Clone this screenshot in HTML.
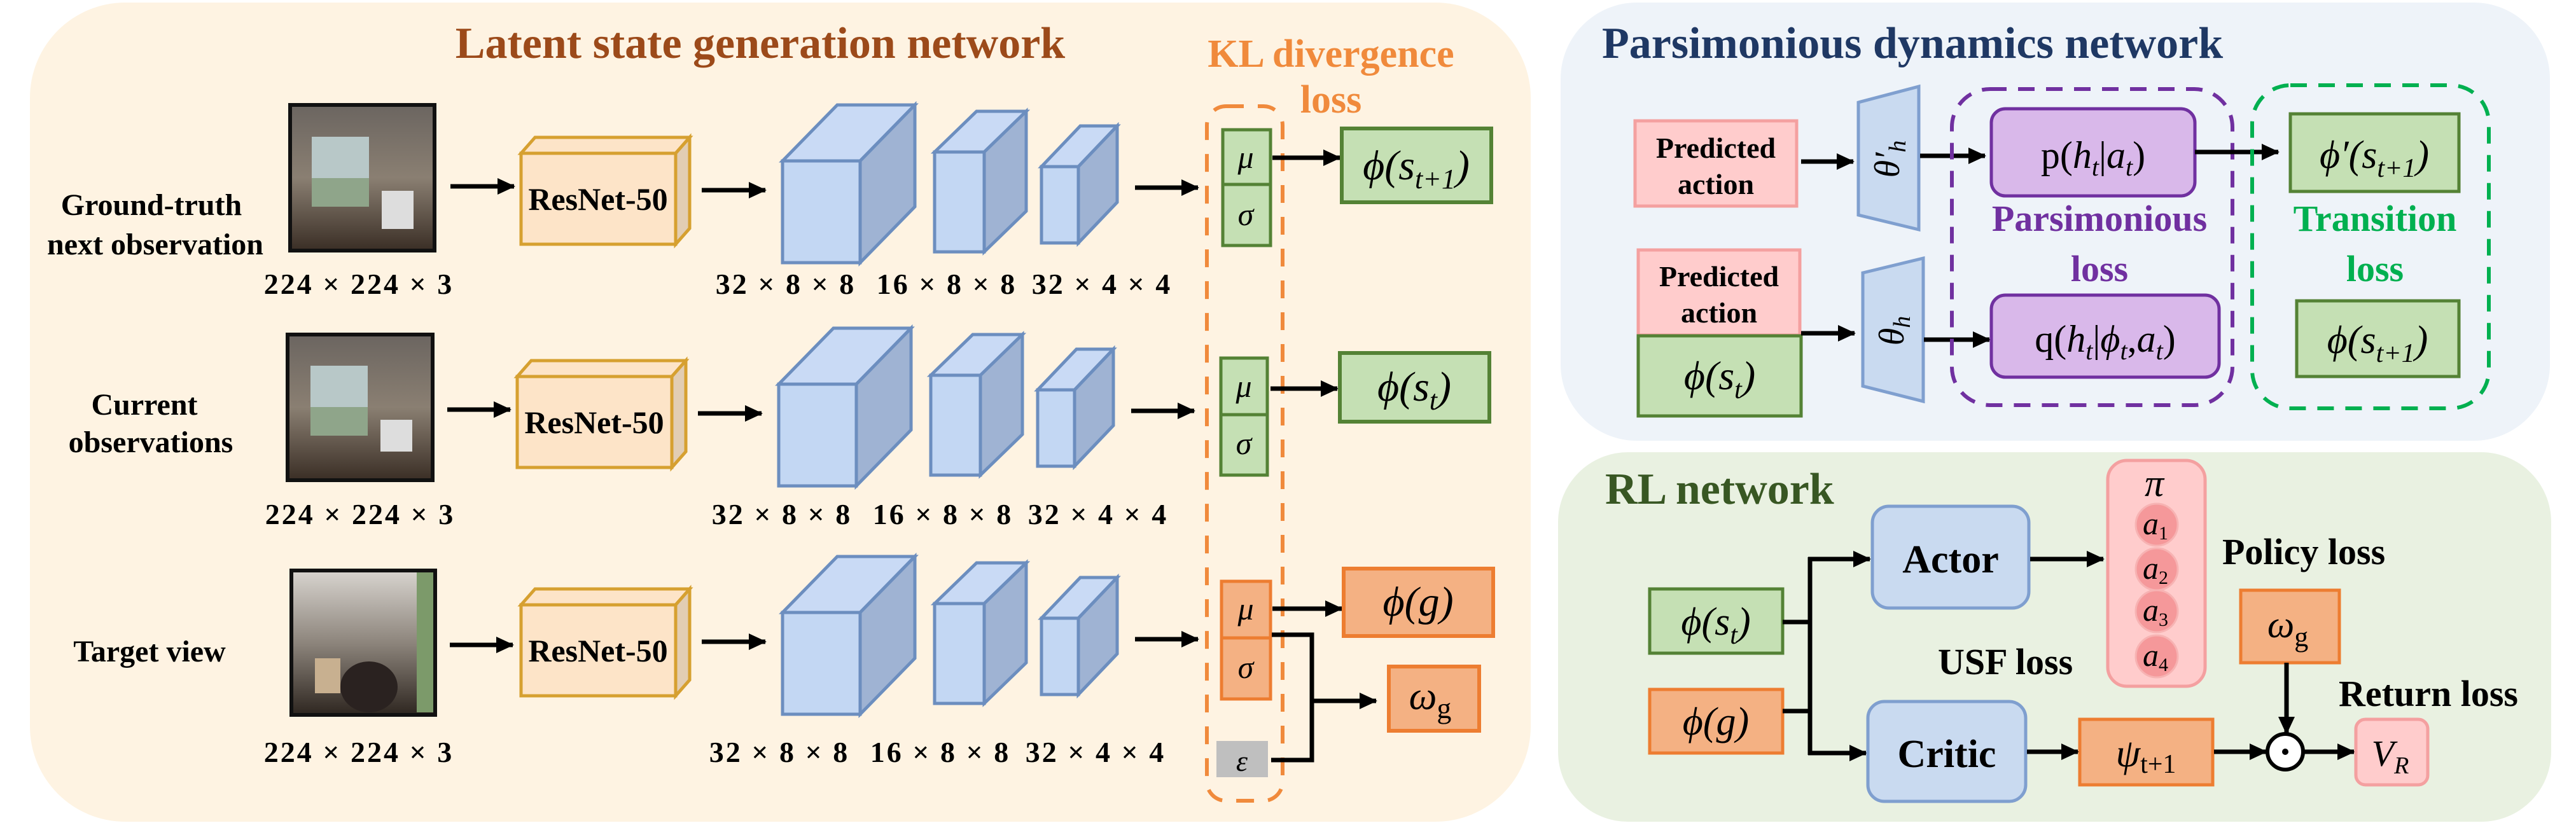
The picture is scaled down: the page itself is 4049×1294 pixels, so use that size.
<!DOCTYPE html>
<html><head><meta charset="utf-8"><style>
html,body{margin:0;padding:0;background:#fff;}
svg{display:block;}
text{font-family:"Liberation Serif",serif;}
.b{font-weight:bold;}
.m{font-style:italic;}
.dim{letter-spacing:3px;}
</style></head><body>
<svg width="4049" height="1294" viewBox="0 0 4049 1294" xmlns="http://www.w3.org/2000/svg" font-family="Liberation Serif, serif">
<defs>
<marker id="ar" markerUnits="userSpaceOnUse" markerWidth="30" markerHeight="30" refX="26" refY="13" orient="auto">
<path d="M0,0 L28,13 L0,26 Z" fill="#000"/>
</marker>
<linearGradient id="img1" x1="0" y1="0" x2="0" y2="1">
<stop offset="0" stop-color="#6b6560"/><stop offset="0.5" stop-color="#8a7f72"/><stop offset="1" stop-color="#3a2e25"/>
</linearGradient>
<linearGradient id="img3" x1="0" y1="0" x2="0" y2="1">
<stop offset="0" stop-color="#d8d4cf"/><stop offset="0.5" stop-color="#8d857c"/><stop offset="1" stop-color="#2e2620"/>
</linearGradient>
<g id="cubeSet">
<polygon points="819,241 841,216 1084,216 1062,241" fill="#fde4c8" stroke="#d6a030" stroke-width="5"/>
<polygon points="1062,241 1084,216 1084,359 1062,384" fill="#e2cdb3" stroke="#d6a030" stroke-width="5"/>
<rect x="819" y="241" width="243" height="143" fill="#fde4c8" stroke="#d6a030" stroke-width="5"/>
<text x="940" y="330" font-size="50" class="b" text-anchor="middle">ResNet-50</text>
<line x1="1103" y1="299" x2="1203" y2="299" stroke="#000" stroke-width="7" marker-end="url(#ar)"/>
<polygon points="1230,253 1316,165 1438,165 1352,253" fill="#c9daf5" stroke="#6c8ebf" stroke-width="5"/>
<polygon points="1352,253 1438,165 1438,325 1352,413" fill="#9fb3d3" stroke="#6c8ebf" stroke-width="5"/>
<rect x="1230" y="253" width="122" height="160" fill="#c3d7f3" stroke="#6c8ebf" stroke-width="5"/>
<polygon points="1469,239 1535,175 1613,175 1547,239" fill="#c9daf5" stroke="#6c8ebf" stroke-width="5"/>
<polygon points="1547,239 1613,175 1613,332 1547,396" fill="#9fb3d3" stroke="#6c8ebf" stroke-width="5"/>
<rect x="1469" y="239" width="78" height="157" fill="#c3d7f3" stroke="#6c8ebf" stroke-width="5"/>
<polygon points="1637,262 1698,198 1756,198 1695,262" fill="#c9daf5" stroke="#6c8ebf" stroke-width="5"/>
<polygon points="1695,262 1756,198 1756,318 1695,382" fill="#9fb3d3" stroke="#6c8ebf" stroke-width="5"/>
<rect x="1637" y="262" width="58" height="120" fill="#c3d7f3" stroke="#6c8ebf" stroke-width="5"/>
<line x1="1784" y1="295" x2="1883" y2="295" stroke="#000" stroke-width="7" marker-end="url(#ar)"/>
</g>
</defs>

<rect x="47" y="4" width="2359" height="1288" rx="150" fill="#fef3e2"/>
<text x="1195" y="91" font-size="70" class="b" text-anchor="middle" fill="#9c4a1a">Latent state generation network</text>
<text x="2092" y="105" font-size="62" class="b" text-anchor="middle" fill="#f08a3c">KL divergence</text>
<text x="2092" y="177" font-size="62" class="b" text-anchor="middle" fill="#f08a3c">loss</text>

<g>
<rect x="456" y="165" width="227" height="229" fill="url(#img1)" stroke="#111" stroke-width="6"/>
<rect x="490" y="215" width="90" height="110" fill="#b8c8c8"/>
<rect x="490" y="280" width="90" height="45" fill="#8fa58a"/>
<rect x="600" y="300" width="50" height="60" fill="#ddd"/>
</g>
<g>
<rect x="452" y="526" width="228" height="229" fill="url(#img1)" stroke="#111" stroke-width="6"/>
<rect x="488" y="575" width="90" height="110" fill="#b8c8c8"/>
<rect x="488" y="640" width="90" height="45" fill="#8fa58a"/>
<rect x="598" y="660" width="50" height="50" fill="#ddd"/>
</g>
<g>
<rect x="458" y="897" width="226" height="227" fill="url(#img3)" stroke="#111" stroke-width="6"/>
<rect x="655" y="900" width="26" height="220" fill="#7c9a6a"/>
<ellipse cx="580" cy="1080" rx="45" ry="40" fill="#2a2220"/>
<rect x="495" y="1035" width="40" height="55" fill="#c8b090"/>
</g>

<text x="238" y="338" font-size="48" class="b" text-anchor="middle">Ground-truth</text>
<text x="244" y="400" font-size="48" class="b" text-anchor="middle">next observation</text>
<text x="227" y="652" font-size="48" class="b" text-anchor="middle">Current</text>
<text x="237" y="711" font-size="48" class="b" text-anchor="middle">observations</text>
<text x="235" y="1040" font-size="48" class="b" text-anchor="middle">Target view</text>

<text x="564" y="462" font-size="46" class="b dim" text-anchor="middle">224 × 224 × 3</text>
<text x="566" y="824" font-size="46" class="b dim" text-anchor="middle">224 × 224 × 3</text>
<text x="564" y="1198" font-size="46" class="b dim" text-anchor="middle">224 × 224 × 3</text>

<line x1="708" y1="293" x2="808" y2="293" stroke="#000" stroke-width="7" marker-end="url(#ar)"/>
<line x1="703" y1="644" x2="802" y2="644" stroke="#000" stroke-width="7" marker-end="url(#ar)"/>
<line x1="707" y1="1014" x2="806" y2="1014" stroke="#000" stroke-width="7" marker-end="url(#ar)"/>

<use href="#cubeSet"/>
<use href="#cubeSet" transform="translate(-6,351)"/>
<use href="#cubeSet" transform="translate(0,710)"/>

<g font-size="46" class="b dim" text-anchor="middle">
<text x="1235" y="462">32 × 8 × 8</text><text x="1488" y="462">16 × 8 × 8</text><text x="1732" y="462">32 × 4 × 4</text>
<text x="1229" y="824">32 × 8 × 8</text><text x="1482" y="824">16 × 8 × 8</text><text x="1726" y="824">32 × 4 × 4</text>
<text x="1225" y="1198">32 × 8 × 8</text><text x="1478" y="1198">16 × 8 × 8</text><text x="1722" y="1198">32 × 4 × 4</text>
</g>

<rect x="1897" y="167" width="119" height="1092" rx="30" fill="none" stroke="#f08a3c" stroke-width="6" stroke-dasharray="28,22"/>

<rect x="1922" y="204" width="75" height="86" fill="#c5e0b4" stroke="#548235" stroke-width="5"/>
<rect x="1922" y="290" width="75" height="96" fill="#c5e0b4" stroke="#548235" stroke-width="5"/>
<text x="1958" y="264" font-size="50" class="m" text-anchor="middle">μ</text>
<text x="1958" y="354" font-size="50" class="m" text-anchor="middle">σ</text>
<line x1="2000" y1="248" x2="2106" y2="248" stroke="#000" stroke-width="7" marker-end="url(#ar)"/>
<rect x="2109" y="202" width="235" height="116" fill="#c5e0b4" stroke="#548235" stroke-width="6"/>
<text x="2226" y="282" font-size="66" class="m" text-anchor="middle">ϕ(s<tspan font-size="44" dy="14">t+1</tspan><tspan dy="-14">)</tspan></text>

<rect x="1919" y="563" width="73" height="89" fill="#c5e0b4" stroke="#548235" stroke-width="5"/>
<rect x="1919" y="652" width="73" height="95" fill="#c5e0b4" stroke="#548235" stroke-width="5"/>
<text x="1955" y="624" font-size="50" class="m" text-anchor="middle">μ</text>
<text x="1955" y="714" font-size="50" class="m" text-anchor="middle">σ</text>
<line x1="1997" y1="611" x2="2102" y2="611" stroke="#000" stroke-width="7" marker-end="url(#ar)"/>
<rect x="2106" y="555" width="235" height="108" fill="#c5e0b4" stroke="#548235" stroke-width="6"/>
<text x="2223" y="630" font-size="66" class="m" text-anchor="middle">ϕ(s<tspan font-size="44" dy="14">t</tspan><tspan dy="-14">)</tspan></text>

<rect x="1920" y="914" width="77" height="89" fill="#f4b183" stroke="#ed7d31" stroke-width="5"/>
<rect x="1920" y="1003" width="77" height="96" fill="#f4b183" stroke="#ed7d31" stroke-width="5"/>
<text x="1958" y="974" font-size="50" class="m" text-anchor="middle">μ</text>
<text x="1958" y="1066" font-size="50" class="m" text-anchor="middle">σ</text>
<rect x="1912" y="1165" width="81" height="57" fill="#bfbfbf"/>
<text x="1952" y="1212" font-size="46" class="m" text-anchor="middle">ε</text>
<line x1="2000" y1="957" x2="2109" y2="957" stroke="#000" stroke-width="7" marker-end="url(#ar)"/>
<polyline points="1999,998 2062,998 2062,1195 1998,1195" fill="none" stroke="#000" stroke-width="7"/>
<line x1="2062" y1="1102" x2="2163" y2="1102" stroke="#000" stroke-width="7" marker-end="url(#ar)"/>
<rect x="2112" y="894" width="235" height="106" fill="#f4b183" stroke="#ed7d31" stroke-width="6"/>
<text x="2229" y="968" font-size="66" class="m" text-anchor="middle">ϕ(g)</text>
<rect x="2183" y="1048" width="142" height="101" fill="#f4b183" stroke="#ed7d31" stroke-width="6"/>
<text x="2248" y="1115" font-size="62" class="m" text-anchor="middle">ω<tspan font-style="normal" font-size="46" dy="14">g</tspan></text>

<rect x="2453" y="4" width="1555" height="689" rx="120" fill="#eef3f9"/>
<text x="2518" y="91" font-size="70" class="b" fill="#1f3864">Parsimonious dynamics network</text>

<rect x="2570" y="190" width="254" height="134" fill="#ffcccc" stroke="#f4a0a0" stroke-width="5"/>
<text x="2697" y="248" font-size="46" class="b" text-anchor="middle">Predicted</text>
<text x="2697" y="305" font-size="46" class="b" text-anchor="middle">action</text>
<line x1="2831" y1="254" x2="2913" y2="254" stroke="#000" stroke-width="7" marker-end="url(#ar)"/>
<polygon points="2921,161 3016,136 3016,361 2921,338" fill="#c9daf0" stroke="#7f9fcf" stroke-width="5"/>
<text transform="translate(2985,250) rotate(-90)" font-size="56" class="m" text-anchor="middle">θ′<tspan font-size="38" dy="10">h</tspan></text>
<line x1="3018" y1="245" x2="3120" y2="245" stroke="#000" stroke-width="7" marker-end="url(#ar)"/>

<rect x="2575" y="393" width="254" height="134" fill="#ffcccc" stroke="#f4a0a0" stroke-width="5"/>
<text x="2702" y="450" font-size="46" class="b" text-anchor="middle">Predicted</text>
<text x="2702" y="507" font-size="46" class="b" text-anchor="middle">action</text>
<rect x="2575" y="528" width="256" height="126" fill="#c5e0b4" stroke="#548235" stroke-width="5"/>
<text x="2703" y="612" font-size="64" class="m" text-anchor="middle">ϕ(s<tspan font-size="42" dy="14">t</tspan><tspan dy="-14">)</tspan></text>
<line x1="2831" y1="524" x2="2915" y2="524" stroke="#000" stroke-width="7" marker-end="url(#ar)"/>
<polygon points="2928,429 3023,406 3023,631 2928,607" fill="#c9daf0" stroke="#7f9fcf" stroke-width="5"/>
<text transform="translate(2992,520) rotate(-90)" font-size="56" class="m" text-anchor="middle">θ<tspan font-size="38" dy="10">h</tspan></text>
<line x1="3024" y1="534" x2="3127" y2="534" stroke="#000" stroke-width="7" marker-end="url(#ar)"/>

<rect x="3068" y="140" width="441" height="497" rx="60" fill="none" stroke="#7030a0" stroke-width="6" stroke-dasharray="26,18"/>
<rect x="3130" y="171" width="320" height="137" rx="22" fill="#d9b8ea" stroke="#7030a0" stroke-width="5"/>
<text x="3290" y="264" font-size="60" text-anchor="middle">p(<tspan class="m">h</tspan><tspan class="m" font-size="40" dy="12">t</tspan><tspan dy="-12">|</tspan><tspan class="m">a</tspan><tspan class="m" font-size="40" dy="12">t</tspan><tspan dy="-12">)</tspan></text>
<rect x="3130" y="464" width="358" height="129" rx="22" fill="#d9b8ea" stroke="#7030a0" stroke-width="5"/>
<text x="3309" y="553" font-size="60" text-anchor="middle">q(<tspan class="m">h</tspan><tspan class="m" font-size="40" dy="12">t</tspan><tspan dy="-12">|</tspan><tspan class="m">ϕ</tspan><tspan class="m" font-size="40" dy="12">t</tspan><tspan dy="-12">,</tspan><tspan class="m">a</tspan><tspan class="m" font-size="40" dy="12">t</tspan><tspan dy="-12">)</tspan></text>
<text x="3300" y="363" font-size="58" class="b" text-anchor="middle" fill="#7030a0">Parsimonious</text>
<text x="3300" y="442" font-size="58" class="b" text-anchor="middle" fill="#7030a0">loss</text>
<line x1="3450" y1="239" x2="3581" y2="239" stroke="#000" stroke-width="7" marker-end="url(#ar)"/>

<rect x="3540" y="134" width="372" height="508" rx="60" fill="none" stroke="#00b050" stroke-width="6" stroke-dasharray="26,18"/>
<rect x="3600" y="179" width="265" height="122" fill="#c5e0b4" stroke="#548235" stroke-width="5"/>
<text x="3732" y="264" font-size="62" class="m" text-anchor="middle">ϕ′(s<tspan font-size="42" dy="14">t+1</tspan><tspan dy="-14">)</tspan></text>
<text x="3733" y="363" font-size="58" class="b" text-anchor="middle" fill="#00b050">Transition</text>
<text x="3733" y="442" font-size="58" class="b" text-anchor="middle" fill="#00b050">loss</text>
<rect x="3610" y="473" width="255" height="119" fill="#c5e0b4" stroke="#548235" stroke-width="5"/>
<text x="3737" y="555" font-size="62" class="m" text-anchor="middle">ϕ(s<tspan font-size="42" dy="14">t+1</tspan><tspan dy="-14">)</tspan></text>

<rect x="2449" y="711" width="1561" height="581" rx="110" fill="#e9f1e1"/>
<text x="2523" y="792" font-size="70" class="b" fill="#385723">RL network</text>

<rect x="2593" y="926" width="209" height="101" fill="#c5e0b4" stroke="#548235" stroke-width="5"/>
<text x="2697" y="998" font-size="62" class="m" text-anchor="middle">ϕ(s<tspan font-size="42" dy="14">t</tspan><tspan dy="-14">)</tspan></text>
<rect x="2593" y="1084" width="209" height="100" fill="#f4b183" stroke="#ed7d31" stroke-width="5"/>
<text x="2697" y="1155" font-size="62" class="m" text-anchor="middle">ϕ(g)</text>
<polyline points="2802,978 2845,978" fill="none" stroke="#000" stroke-width="7"/>
<polyline points="2802,1118 2845,1118" fill="none" stroke="#000" stroke-width="7"/>
<line x1="2845" y1="876" x2="2845" y2="1187" stroke="#000" stroke-width="7"/>
<line x1="2842" y1="879" x2="2939" y2="879" stroke="#000" stroke-width="7" marker-end="url(#ar)"/>
<line x1="2842" y1="1184" x2="2933" y2="1184" stroke="#000" stroke-width="7" marker-end="url(#ar)"/>

<rect x="2943" y="796" width="246" height="160" rx="26" fill="#c9daf0" stroke="#7f9fcf" stroke-width="5"/>
<text x="3066" y="900" font-size="62" class="b" text-anchor="middle">Actor</text>
<rect x="2936" y="1103" width="248" height="157" rx="26" fill="#c9daf0" stroke="#7f9fcf" stroke-width="5"/>
<text x="3060" y="1206" font-size="62" class="b" text-anchor="middle">Critic</text>
<line x1="3191" y1="879" x2="3306" y2="879" stroke="#000" stroke-width="7" marker-end="url(#ar)"/>

<rect x="3313" y="724" width="153" height="355" rx="30" fill="#ffcccc" stroke="#f4a0a0" stroke-width="5"/>
<text x="3386" y="780" font-size="60" class="m" text-anchor="middle">π</text>
<g fill="#f5989a" stroke="#f7b3b3" stroke-width="3">
<ellipse cx="3390" cy="825" rx="33" ry="33"/><ellipse cx="3390" cy="895" rx="33" ry="33"/>
<ellipse cx="3390" cy="961" rx="33" ry="33"/><ellipse cx="3390" cy="1032" rx="33" ry="33"/>
</g>
<g font-size="50" class="m" text-anchor="middle">
<text x="3388" y="840">a<tspan font-style="normal" font-size="30" dy="8">1</tspan></text>
<text x="3388" y="910">a<tspan font-style="normal" font-size="30" dy="8">2</tspan></text>
<text x="3388" y="976">a<tspan font-style="normal" font-size="30" dy="8">3</tspan></text>
<text x="3388" y="1047">a<tspan font-style="normal" font-size="30" dy="8">4</tspan></text>
</g>
<text x="3493" y="887" font-size="58" class="b">Policy loss</text>
<text x="3046" y="1060" font-size="58" class="b">USF loss</text>
<text x="3676" y="1110" font-size="58" class="b">Return loss</text>

<rect x="3522" y="928" width="155" height="114" fill="#f4b183" stroke="#ed7d31" stroke-width="5"/>
<text x="3596" y="1002" font-size="60" class="m" text-anchor="middle">ω<tspan font-style="normal" font-size="44" dy="14">g</tspan></text>
<line x1="3594" y1="1042" x2="3594" y2="1153" stroke="#000" stroke-width="7" marker-end="url(#ar)"/>
<circle cx="3592" cy="1182" r="28" fill="#fff" stroke="#000" stroke-width="6"/>
<circle cx="3592" cy="1182" r="5" fill="#000"/>

<rect x="3269" y="1131" width="209" height="103" fill="#f4b183" stroke="#ed7d31" stroke-width="5"/>
<text x="3373" y="1205" font-size="62" class="m" text-anchor="middle">ψ<tspan font-style="normal" font-size="42" dy="10">t+1</tspan></text>
<line x1="3186" y1="1182" x2="3266" y2="1182" stroke="#000" stroke-width="7" marker-end="url(#ar)"/>
<line x1="3480" y1="1182" x2="3562" y2="1182" stroke="#000" stroke-width="7" marker-end="url(#ar)"/>
<line x1="3621" y1="1182" x2="3700" y2="1182" stroke="#000" stroke-width="7" marker-end="url(#ar)"/>
<rect x="3703" y="1131" width="113" height="103" rx="15" fill="#ffcccc" stroke="#f4a0a0" stroke-width="5"/>
<text x="3757" y="1204" font-size="58" class="m" text-anchor="middle">V<tspan font-size="38" dy="12">R</tspan></text>
</svg>
</body></html>
